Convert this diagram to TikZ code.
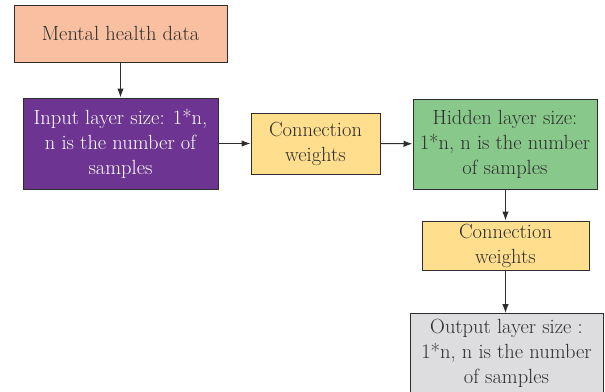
\documentclass[tikz,border=0pt]{standalone}
\usepackage{tikz}
\usetikzlibrary{positioning}
\usetikzlibrary{arrows,arrows.meta}
\usepackage{xcolor}

\definecolor{peach}{RGB}{248,192,160}
\definecolor{grape}{RGB}{109,53,145}
\definecolor{butter}{RGB}{255,222,142}
\definecolor{leaf}{RGB}{136,201,139}
\definecolor{ash}{RGB}{221,221,223}
\definecolor{rim}{RGB}{45,45,45}

\begin{document}
\begin{tikzpicture}[x = 1pt, y = -1pt]
\tikzstyle{BoxStyle} = [shape = rectangle, draw = rim, text = rim, line width = 1pt, align = center, inner sep = 1pt, font = \fontsize{20.5}{25}\selectfont]
\tikzstyle{EdgeStyle} = [-{Latex[length=9pt,width=6.5pt]}, line width = 1pt, color = rim]
\tikzstyle{dataStyle} = [BoxStyle, fill = peach, minimum width = 213pt, minimum height = 57pt]
\tikzstyle{inputStyle} = [BoxStyle, fill = grape, text = white, minimum width = 195pt, minimum height = 91pt]
\tikzstyle{weightStyle} = [BoxStyle, fill = butter]
\tikzstyle{hiddenStyle} = [BoxStyle, fill = leaf, minimum width = 184pt, minimum height = 90pt]
\tikzstyle{outputStyle} = [BoxStyle, fill = ash, minimum width = 193pt, minimum height = 80pt]
\clip (0,0) rectangle (605,391);
\useasboundingbox (0,0) rectangle (605,391);
% boxes
\node[dataStyle] (data) at (120.5, 33.5) {Mental health data};
\node[inputStyle] (input) at (120.5, 143.5) {Input layer size: 1*n,\\ n is the number of\\ samples};
\node[weightStyle, minimum width = 129pt, minimum height = 61pt] (w1) at (315.5, 143.5) {Connection\\ weights};
\node[hiddenStyle] (hidden) at (505, 144) {Hidden layer size:\\ 1*n, n is the number\\ of samples};
\node[weightStyle, minimum width = 167pt, minimum height = 49pt] (w2) at (505.5, 245.5) {Connection\\ weights};
\node[outputStyle] (output) at (506.5, 353.5) {Output layer size :\\ 1*n, n is the number\\ of samples};
% arrows
\draw[EdgeStyle] (data) -- (input);
\draw[EdgeStyle] (input) -- (w1);
\draw[EdgeStyle] (w1) -- (hidden);
\draw[EdgeStyle] (hidden.south -| w2) -- (w2);
\draw[EdgeStyle] (w2) -- (output.north -| w2);
\end{tikzpicture}
\end{document}
